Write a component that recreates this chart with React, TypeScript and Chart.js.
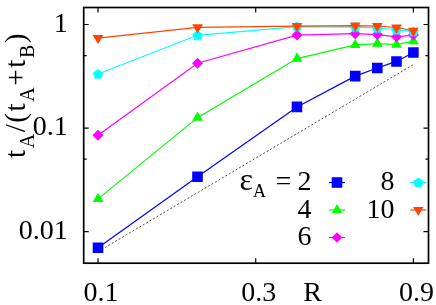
import React, { useEffect, useRef } from 'react';
import { Chart, registerables } from 'chart.js';

Chart.register(...registerables);

// ---- data ----
const rValues = [0.1, 0.2, 0.4, 0.6, 0.7, 0.8, 0.9];
const eps2 = [0.00698, 0.0339, 0.16, 0.317, 0.38, 0.44, 0.537];
const eps4 = [0.0207, 0.126, 0.469, 0.635, 0.655, 0.64, 0.69];
const eps6 = [0.085, 0.423, 0.79, 0.816, 0.8, 0.76, 0.79];
const eps8 = [0.333, 0.787, 0.955, 0.945, 0.925, 0.89, 0.855];
const eps10 = [0.74, 0.94, 0.966, 0.975, 0.965, 0.936, 0.87];
const guideX = [0.1, 0.9];
const guideY = [0.0064, 0.41];
const xTicks = [0.1, 0.3, 0.9];
const yTicks = [0.01, 0.1, 1];
const yMinorTicks = [0.05, 0.5];
const legendLabels = ['2', '4', '6', '8', '10'];
const seriesColors = ['#0000ff', '#00ff00', '#ff00ff', '#00ffff', '#ff4500'];

const FONT = '"Liberation Serif", "Times New Roman", serif';

function makePentagon(radius: number, color: string): HTMLCanvasElement {
  const size = Math.ceil(radius * 2 + 2);
  const c = document.createElement('canvas');
  c.width = size;
  c.height = size;
  const ctx = c.getContext('2d')!;
  ctx.fillStyle = color;
  ctx.beginPath();
  for (let i = 0; i < 5; i++) {
    const a = -Math.PI / 2 + (i * 2 * Math.PI) / 5;
    const px = size / 2 + radius * Math.cos(a);
    const py = size / 2 + radius * Math.sin(a) + 0.4;
    if (i === 0) ctx.moveTo(px, py);
    else ctx.lineTo(px, py);
  }
  ctx.closePath();
  ctx.fill();
  return c;
}

type Part = { t: string; sub?: boolean; size?: number };

function drawRich(
  ctx: CanvasRenderingContext2D,
  parts: Part[],
  x: number,
  y: number,
  main: number,
  sub: number,
  shift: number,
  gap = 0
) {
  let cx = x;
  ctx.textAlign = 'left';
  ctx.textBaseline = 'alphabetic';
  for (const p of parts) {
    const sz = p.size ?? (p.sub ? sub : main);
    ctx.font = `${sz}px ${FONT}`;
    for (const ch of p.t) {
      ctx.fillText(ch, cx, p.sub ? y + shift : y);
      cx += ctx.measureText(ch).width + gap;
    }
  }
  return cx;
}

function drawMarker(
  ctx: CanvasRenderingContext2D,
  kind: string,
  x: number,
  y: number,
  color: string,
  penta?: HTMLCanvasElement
) {
  ctx.fillStyle = color;
  ctx.beginPath();
  if (kind === 'rect') {
    const s = 5.3;
    ctx.rect(x - s, y - s, 2 * s, 2 * s);
  } else if (kind === 'triangle') {
    const r = 6;
    ctx.moveTo(x, y - r);
    ctx.lineTo(x + r * 0.866, y + r / 2);
    ctx.lineTo(x - r * 0.866, y + r / 2);
    ctx.closePath();
  } else if (kind === 'triangleDown') {
    const r = 6;
    ctx.moveTo(x, y + r);
    ctx.lineTo(x + r * 0.866, y - r / 2);
    ctx.lineTo(x - r * 0.866, y - r / 2);
    ctx.closePath();
  } else if (kind === 'diamond') {
    const r = 5.3;
    ctx.moveTo(x - r, y);
    ctx.lineTo(x, y - r);
    ctx.lineTo(x + r, y);
    ctx.lineTo(x, y + r);
    ctx.closePath();
  } else if (kind === 'penta' && penta) {
    ctx.drawImage(penta, x - penta.width / 2, y - penta.height / 2);
    return;
  }
  ctx.fill();
}

export default function App() {
  const ref = useRef<HTMLCanvasElement | null>(null);

  useEffect(() => {
    if (!ref.current) return;
    const penta = makePentagon(5.5, seriesColors[3]);
    const pts = (ys: number[]) => rValues.map((x, i) => ({ x, y: ys[i] }));

    const series = [eps2, eps4, eps6, eps8, eps10];
    const styles: any[] = ['rect', 'triangle', 'rectRot', penta, 'triangle'];
    const radii = [7.5, 6.2, 5.5, 5.5, 6.2];
    const rotations = [0, 0, 0, 0, 180];
    const orders = [5, 4, 3, 2, 1];

    const datasets: any[] = series.map((ys, i) => ({
      label: legendLabels[i],
      data: pts(ys),
      borderColor: seriesColors[i],
      backgroundColor: seriesColors[i],
      borderWidth: 1.2,
      pointStyle: styles[i],
      pointRadius: radii[i],
      pointRotation: rotations[i],
      pointBorderWidth: 0,
      pointBackgroundColor: seriesColors[i],
      tension: 0,
      order: orders[i],
    }));
    datasets.push({
      label: 'guide',
      data: guideX.map((x, i) => ({ x, y: guideY[i] })),
      borderColor: '#222',
      borderWidth: 0.8,
      borderDash: [2, 2],
      pointRadius: 0,
      order: 10,
    });

    const legendKinds = ['rect', 'triangle', 'diamond', 'penta', 'triangleDown'];
    const legendPos = [
      { mx: 337, my: 182.5, tx: 311.5 },
      { mx: 337, my: 210, tx: 311.5 },
      { mx: 337, my: 237.5, tx: 311.5 },
      { mx: 418.3, my: 182.5, tx: 394.5 },
      { mx: 418.3, my: 210, tx: 394.5 },
    ];

    const overlay = {
      id: 'overlay',
      afterDraw(chart: any) {
        const ctx: CanvasRenderingContext2D = chart.ctx;
        const { left, right, top, bottom } = chart.chartArea;
        const xs = chart.scales.x;
        const ys = chart.scales.y;
        ctx.save();
        ctx.strokeStyle = '#000';
        ctx.lineWidth = 1.2;
        ctx.beginPath();
        for (const v of xTicks) {
          const px = xs.getPixelForValue(v);
          ctx.moveTo(px, bottom);
          ctx.lineTo(px, bottom - 5);
          ctx.moveTo(px, top);
          ctx.lineTo(px, top + 5);
        }
        for (const v of yTicks) {
          const py = ys.getPixelForValue(v);
          ctx.moveTo(left, py);
          ctx.lineTo(left + 5, py);
          ctx.moveTo(right, py);
          ctx.lineTo(right - 5, py);
        }
        for (const v of yMinorTicks) {
          const py = ys.getPixelForValue(v);
          ctx.moveTo(left, py);
          ctx.lineTo(left + 3, py);
          ctx.moveTo(right, py);
          ctx.lineTo(right - 3, py);
        }
        ctx.stroke();
        ctx.lineWidth = 1.7;
        ctx.strokeRect(left, top, right - left, bottom - top);

        ctx.fillStyle = '#000';
        ctx.font = `28px ${FONT}`;
        ctx.textAlign = 'center';
        ctx.textBaseline = 'alphabetic';
        ctx.fillText('R', 312.5, 301.2);

        // y axis title
        const yParts: Part[] = [
          { t: 't' },
          { t: 'A', sub: true },
          { t: '/(t' },
          { t: 'A', sub: true },
          { t: '+t' },
          { t: 'B', sub: true },
          { t: ')' },
        ];
        ctx.save();
        ctx.translate(25, 158);
        ctx.rotate(-Math.PI / 2);
        ctx.fillStyle = '#000';
        drawRich(ctx, yParts, 0, 0, 29, 20, 9, 1.6);
        ctx.restore();

        // legend
        ctx.fillStyle = '#000';
        drawRich(ctx, [{ t: 'ε', size: 32 }, { t: 'A', sub: true }], 239.5, 190, 28, 18, 6.7);
        ctx.font = `28px ${FONT}`;
        ctx.textAlign = 'center';
        ctx.fillText('=', 283.4, 190);
        legendPos.forEach((p, i) => {
          ctx.fillStyle = '#000';
          ctx.font = `28px ${FONT}`;
          ctx.textAlign = 'right';
          ctx.textBaseline = 'alphabetic';
          ctx.fillText(legendLabels[i], p.tx, p.my + 7.5);
          ctx.strokeStyle = seriesColors[i];
          ctx.lineWidth = 1.2;
          ctx.beginPath();
          ctx.moveTo(p.mx - 8, p.my);
          ctx.lineTo(p.mx + 8, p.my);
          ctx.stroke();
          drawMarker(ctx, legendKinds[i], p.mx, p.my, seriesColors[i], penta);
        });
        ctx.restore();
      },
    };

    const chart = new Chart(ref.current, {
      type: 'line',
      data: { datasets },
      options: {
        animation: false,
        responsive: false,
        maintainAspectRatio: false,
        layout: { padding: { left: 0, top: 3.3, right: 5, bottom: 0 } },
        plugins: { legend: { display: false }, tooltip: { enabled: false } },
        scales: {
          x: {
            type: 'logarithmic',
            min: 0.0905,
            max: 1.0,
            afterBuildTicks: (s: any) => {
              s.ticks = xTicks.map((v) => ({ value: v }));
            },
            afterFit: (s: any) => {
              s.height = 41.8;
              s.paddingLeft = 0;
              s.paddingRight = 0;
            },
            ticks: {
              autoSkip: false,
              maxRotation: 0,
              minRotation: 0,
              padding: 16.6,
              labelOffset: 3,
              color: '#000',
              font: { family: FONT, size: 28, lineHeight: 1 },
              callback: (v: any) => String(v),
            },
            grid: { display: false, drawTicks: false },
            border: { display: false },
          },
          y: {
            type: 'logarithmic',
            min: 0.00495,
            max: 1.46,
            afterBuildTicks: (s: any) => {
              s.ticks = yTicks.map((v) => ({ value: v }));
            },
            afterFit: (s: any) => {
              s.width = 83.7;
              s.paddingTop = 0;
              s.paddingBottom = 0;
            },
            ticks: {
              autoSkip: false,
              padding: 16,
              color: '#000',
              font: { family: FONT, size: 28, lineHeight: 1 },
              callback: (v: any) => String(v),
            },
            grid: { display: false, drawTicks: false },
            border: { display: false },
          },
        },
      },
      plugins: [overlay],
    } as any);

    return () => chart.destroy();
  }, []);

  return (
    <div style={{ position: 'fixed', left: 0, top: 0, width: 436, height: 305, background: '#fff' }}>
      <canvas ref={ref} width={436} height={305} style={{ display: 'block', width: 436, height: 305 }} />
    </div>
  );
}
